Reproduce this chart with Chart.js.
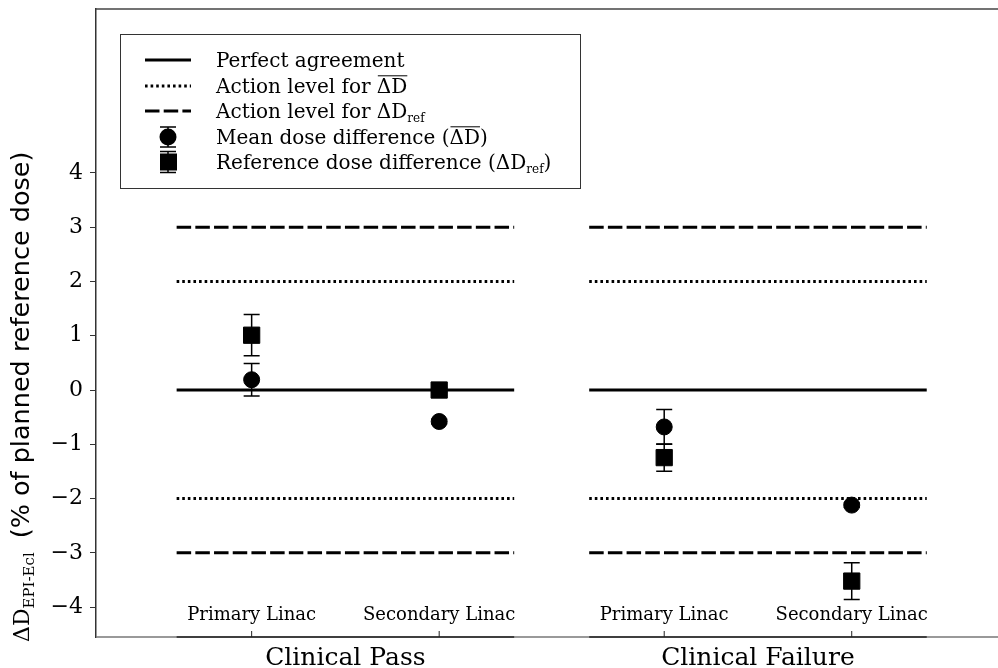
<!DOCTYPE html>
<html>
<head>
<meta charset="utf-8">
<script src="https://cdn.jsdelivr.net/npm/chart.js@4.4.1/dist/chart.umd.min.js"></script>
<style>
  html, body { margin: 0; padding: 0; background: #fff; }
  #wrap { width: 998px; height: 668px; position: relative; }
</style>
</head>
<body>
<div id="wrap"><canvas id="chart-dose-diff"></canvas></div>
<script>
// categories
const groupNames = ["Clinical Pass", "Clinical Failure"]
const groupRanges = [[0.6, 2.4], [2.8, 4.6]]
const linacNames = ["Primary Linac", "Secondary Linac", "Primary Linac", "Secondary Linac"]
const linacPos = [1, 2, 3.2, 4.2]

// series (% of planned reference dose)
const meanDiff = [0.19, -0.58, -0.68, -2.12]
const meanErr = [0.30, 0.04, 0.32, 0.04]
const refDiff = [1.01, 0.00, -1.245, -3.52]
const refErr = [0.38, 0.04, 0.25, 0.34]

// reference levels
const perfectLevel = [0]
const meanActionLevels = [2, -2]
const refActionLevels = [3, -3]

const yTicks = [-4, -3, -2, -1, 0, 1, 2, 3, 4]

const SERIF = '"DejaVu Serif"'
const SANS = '"DejaVu Sans"'
const DOTTED = [2.6, 3]
const DASHED = [14.5, 4.2]

const levelSets = []
const addLevels = (levels, dash, name) => {
    levels.forEach((level) => {
        groupRanges.forEach((range) => {
            levelSets.push({
                type: "line",
                label: name,
                data: range.map((x) => ({ x: x, y: level })),
                borderColor: "#000",
                borderWidth: 3,
                borderDash: dash,
                borderCapStyle: "butt",
                pointRadius: 0,
                order: 2
            })
        })
    })
}
addLevels(perfectLevel, [], "Perfect agreement")
addLevels(meanActionLevels, DOTTED, "Action level for mean")
addLevels(refActionLevels, DASHED, "Action level for ref")

// error bars + marker helpers
function errorBar(ctx, x, yTop, yBot, half) {
    ctx.beginPath()
    ctx.moveTo(x, yTop); ctx.lineTo(x, yBot)
    ctx.moveTo(x - half, yTop); ctx.lineTo(x + half, yTop)
    ctx.moveTo(x - half, yBot); ctx.lineTo(x + half, yBot)
    ctx.stroke()
}

// text with sub/overline parts
function richText(ctx, x, y, parts, size) {
    let cx = x
    parts.forEach((p) => {
        if (p.sub) {
            ctx.font = `${Math.round(size * 0.62)}px ${SERIF}`
            ctx.fillText(p.t, cx, y + size * 0.22)
            cx += ctx.measureText(p.t).width
        } else {
            ctx.font = `${size}px ${SERIF}`
            ctx.fillText(p.t, cx, y)
            const w = ctx.measureText(p.t).width
            if (p.over) {
                ctx.beginPath()
                ctx.lineWidth = 1
                ctx.moveTo(cx + 1, y - size * 0.86)
                ctx.lineTo(cx + w, y - size * 0.86)
                ctx.stroke()
            }
            cx += w
        }
    })
}

const decorPlugin = {
    id: "decor",
    afterDatasetsDraw(chart) {
        const ctx = chart.ctx
        const xs = chart.scales.x
        const ys = chart.scales.y
        ctx.save()
        ctx.strokeStyle = "#000"
        ctx.lineWidth = 1.5
        linacPos.forEach((pos, i) => {
            const px = xs.getPixelForValue(pos)
            errorBar(ctx, px, ys.getPixelForValue(meanDiff[i] + meanErr[i]), ys.getPixelForValue(meanDiff[i] - meanErr[i]), 8)
            errorBar(ctx, px, ys.getPixelForValue(refDiff[i] + refErr[i]), ys.getPixelForValue(refDiff[i] - refErr[i]), 8)
        })
        ctx.restore()
    },
    afterDraw(chart) {
        const ctx = chart.ctx
        const area = chart.chartArea
        const xs = chart.scales.x
        ctx.save()

        // spines
        ctx.lineWidth = 1.5
        ctx.strokeStyle = "#444"
        ctx.beginPath()
        ctx.moveTo(area.left, area.top); ctx.lineTo(area.right, area.top)
        ctx.stroke()
        ctx.strokeStyle = "#777"
        ctx.beginPath()
        ctx.moveTo(area.left, area.bottom); ctx.lineTo(area.right, area.bottom)
        ctx.stroke()
        ctx.strokeStyle = "#222"
        groupRanges.forEach((range) => {
            ctx.beginPath()
            ctx.moveTo(xs.getPixelForValue(range[0]), area.bottom)
            ctx.lineTo(xs.getPixelForValue(range[1]), area.bottom)
            ctx.stroke()
        })

        // linac ticks and labels
        ctx.lineWidth = 1
        ctx.fillStyle = "#000"
        ctx.textAlign = "center"
        ctx.textBaseline = "alphabetic"
        ctx.font = `18px ${SERIF}`
        linacPos.forEach((pos, i) => {
            const px = xs.getPixelForValue(pos)
            ctx.beginPath()
            ctx.moveTo(px, area.bottom); ctx.lineTo(px, area.bottom - 6)
            ctx.stroke()
            ctx.fillText(linacNames[i], px, area.bottom - 17)
        })

        // group labels
        ctx.font = `25px ${SERIF}`
        groupNames.forEach((name, i) => {
            const mid = (groupRanges[i][0] + groupRanges[i][1]) / 2
            ctx.fillText(name, xs.getPixelForValue(mid), 665)
        })

        // y axis title
        ctx.save()
        ctx.translate(29, 642)
        ctx.rotate(-Math.PI / 2)
        ctx.textAlign = "left"
        ctx.font = `22px ${SERIF}`
        ctx.fillText("\u0394D", 0, 0)
        let off = ctx.measureText("\u0394D").width
        ctx.font = `15px ${SERIF}`
        ctx.fillText("EPI-Ecl", off, 5)
        off += ctx.measureText("EPI-Ecl").width + 14
        ctx.font = `25.5px ${SANS}`
        ctx.fillText("(% of planned reference dose)", off, 0)
        ctx.restore()

        // legend
        const box = { left: 120.5, top: 34.5, right: 580.5, bottom: 188.5 }
        ctx.fillStyle = "#fff"
        ctx.fillRect(box.left, box.top, box.right - box.left, box.bottom - box.top)
        ctx.strokeStyle = "#333"
        ctx.lineWidth = 1
        ctx.strokeRect(box.left, box.top, box.right - box.left, box.bottom - box.top)

        const rows = [60, 86, 111, 137, 162]
        ctx.strokeStyle = "#000"
        ctx.lineWidth = 3
        ;[[], DOTTED, DASHED].forEach((dash, i) => {
            ctx.setLineDash(dash)
            ctx.beginPath()
            ctx.moveTo(145, rows[i]); ctx.lineTo(191, rows[i])
            ctx.stroke()
        })
        ctx.setLineDash([])
        ctx.fillStyle = "#000"
        ctx.lineWidth = 1.5
        errorBar(ctx, 168, rows[3] - 10, rows[3] + 10, 8)
        ctx.beginPath()
        ctx.arc(168, rows[3], 8.5, 0, Math.PI * 2)
        ctx.fill()
        errorBar(ctx, 168, rows[4] - 10.5, rows[4] + 10.5, 8)
        ctx.fillRect(160, rows[4] - 8.5, 17, 17)

        ctx.textAlign = "left"
        const texts = [
            [{ t: "Perfect agreement" }],
            [{ t: "Action level for " }, { t: "\u0394D", over: true }],
            [{ t: "Action level for \u0394D" }, { t: "ref", sub: true }],
            [{ t: "Mean dose difference (" }, { t: "\u0394D", over: true }, { t: ")" }],
            [{ t: "Reference dose difference (\u0394D" }, { t: "ref", sub: true }, { t: ")" }]
        ]
        ctx.lineWidth = 1
        texts.forEach((parts, i) => richText(ctx, 216, rows[i] + 7, parts, 20))

        ctx.restore()
    }
}

const meanPoints = linacPos.map((x, i) => ({ x: x, y: meanDiff[i] }))
const refPoints = linacPos.map((x, i) => ({ x: x, y: refDiff[i] }))

new Chart(document.getElementById("chart-dose-diff"), {
    data: {
        datasets: [
            {
                type: "scatter",
                label: "Mean dose difference",
                data: meanPoints,
                pointStyle: "circle",
                pointRadius: 8,
                backgroundColor: "#000",
                borderColor: "#000",
                borderWidth: 1,
                order: 0
            },
            {
                type: "scatter",
                label: "Reference dose difference",
                data: refPoints,
                pointStyle: "rect",
                pointRadius: 11.5,
                backgroundColor: "#000",
                borderColor: "#000",
                borderWidth: 1,
                order: 0
            },
            ...levelSets
        ]
    },
    options: {
        responsive: true,
        maintainAspectRatio: false,
        animation: false,
        events: [],
        layout: { autoPadding: false, padding: { top: 9, right: 0, bottom: 31, left: 0 } },
        plugins: {
            legend: { display: false },
            tooltip: { enabled: false }
        },
        scales: {
            x: {
                type: "linear",
                display: false,
                min: 0.17,
                max: 4.98
            },
            y: {
                type: "linear",
                min: -4.55,
                max: 7.02,
                afterFit: (scale) => {
                    scale.width = 96
                    scale.paddingTop = 0
                    scale.paddingBottom = 0
                },
                afterBuildTicks: (scale) => { scale.ticks = yTicks.map((v) => ({ value: v })) },
                border: { display: true, color: "#333", width: 1.5 },
                grid: { drawOnChartArea: false, drawTicks: true, tickLength: 6, tickColor: "#333", lineWidth: 1 },
                ticks: {
                    padding: 7,
                    color: "#000",
                    font: { family: "DejaVu Serif", size: 22 },
                    callback: (value) => String(value).replace("-", "\u2212")
                }
            }
        }
    },
    plugins: [decorPlugin]
})
</script>
</body>
</html>
